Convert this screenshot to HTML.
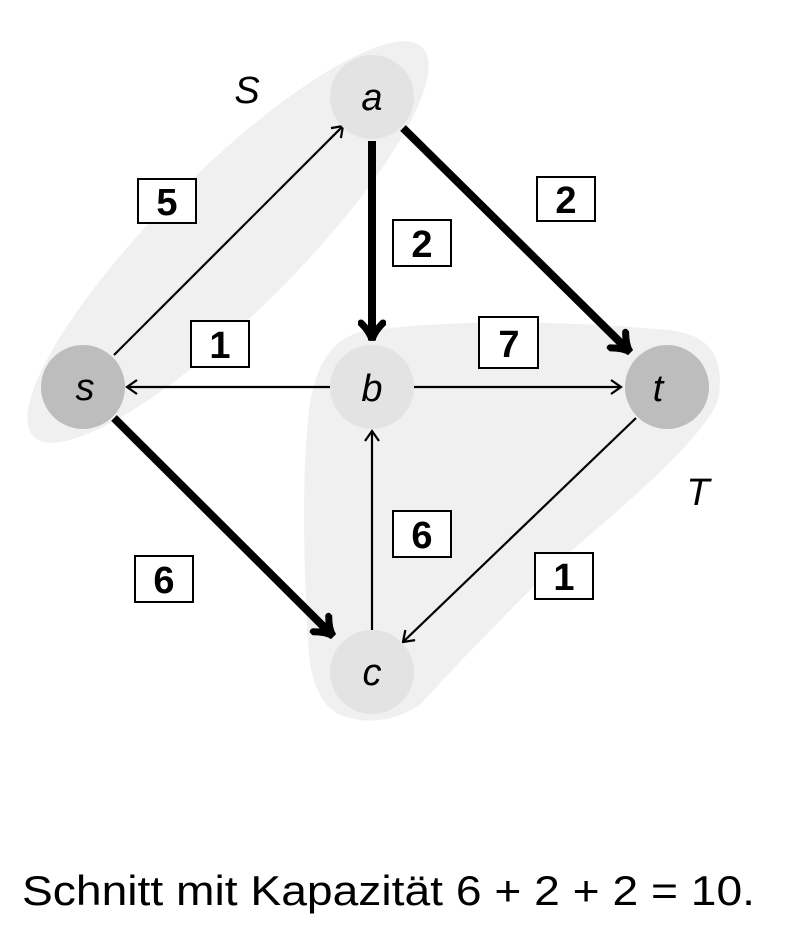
<!DOCTYPE html><html><head><style>body{margin:0;background:#fff}svg{display:block}</style></head><body>
<svg width="789" height="932" viewBox="0 0 789 932" xmlns="http://www.w3.org/2000/svg" font-family="Liberation Sans, DejaVu Sans, sans-serif">
<defs>
<marker id="th" viewBox="-12 -8 14 16" markerWidth="14" markerHeight="16" refX="0" refY="0" orient="auto" markerUnits="userSpaceOnUse"><path d="M-10,-7 L0,0 L-10,7" fill="none" stroke="#000" stroke-width="2.2"/></marker>
<marker id="tk" viewBox="-22 -14 26 28" markerWidth="26" markerHeight="28" refX="0" refY="0" orient="auto" markerUnits="userSpaceOnUse"><path d="M-17,-11 Q-8,-2 0,0 Q-8,2 -17,11" fill="none" stroke="#000" stroke-width="7" stroke-linecap="round"/></marker>
</defs>
<ellipse cx="228" cy="242" rx="275" ry="70" transform="rotate(-45 228 242)" fill="#f0f0f0"/>
<path d="M372,330 Q500,315 667,330 Q730,335 718,400 Q705,440 560,560 Q460,660 420,705 Q380,730 340,715 Q310,700 308,640 Q300,500 308,420 Q315,335 372,330 Z" fill="#f0f0f0"/>
<g stroke="#000" fill="none">
<line x1="114" y1="355" x2="343" y2="126" stroke-width="2.2" marker-end="url(#th)"/>
<line x1="372" y1="141" x2="372" y2="340" stroke-width="8" marker-end="url(#tk)"/>
<line x1="403" y1="128" x2="630" y2="352" stroke-width="8" marker-end="url(#tk)"/>
<line x1="330" y1="387" x2="127" y2="387" stroke-width="2.2" marker-end="url(#th)"/>
<line x1="414" y1="387" x2="621" y2="387" stroke-width="2.2" marker-end="url(#th)"/>
<line x1="372" y1="630" x2="372" y2="431" stroke-width="2.2" marker-end="url(#th)"/>
<line x1="636" y1="418" x2="403" y2="642" stroke-width="2.2" marker-end="url(#th)"/>
<line x1="114" y1="418" x2="333" y2="636" stroke-width="8" marker-end="url(#tk)"/>
</g>
<circle cx="372" cy="97" r="42" fill="#e3e3e3"/>
<circle cx="372" cy="387" r="42" fill="#e3e3e3"/>
<circle cx="372" cy="672" r="42" fill="#e3e3e3"/>
<circle cx="83" cy="387" r="42" fill="#bdbdbd"/>
<circle cx="667" cy="387" r="42" fill="#bdbdbd"/>
<g font-style="italic" font-size="38" text-anchor="middle">
<text x="372" y="110">a</text><text x="372" y="401">b</text><text x="372" y="685">c</text>
<text x="85" y="400">s</text><text x="658" y="401">t</text>
<text x="247" y="103">S</text><text x="698" y="505">T</text>
</g>
<g fill="#fff" stroke="#000" stroke-width="2">
<rect x="138" y="179" width="58" height="44"/><rect x="393" y="220" width="58" height="46"/>
<rect x="537" y="177" width="58" height="44"/><rect x="191" y="321" width="58" height="46"/>
<rect x="479" y="317" width="59" height="51"/><rect x="393" y="511" width="58" height="46"/>
<rect x="135" y="556" width="58" height="46"/><rect x="535" y="553" width="58" height="46"/>
</g>
<g font-weight="bold" font-size="38" text-anchor="middle">
<text x="167" y="215">5</text><text x="422" y="257">2</text><text x="566" y="213">2</text>
<text x="220" y="358">1</text><text x="509" y="357">7</text><text x="422" y="548">6</text>
<text x="164" y="593">6</text><text x="564" y="590">1</text>
</g>
<text x="22" y="905" font-size="42" textLength="733" lengthAdjust="spacingAndGlyphs">Schnitt mit Kapazität 6 + 2 + 2 = 10.</text>
</svg></body></html>
